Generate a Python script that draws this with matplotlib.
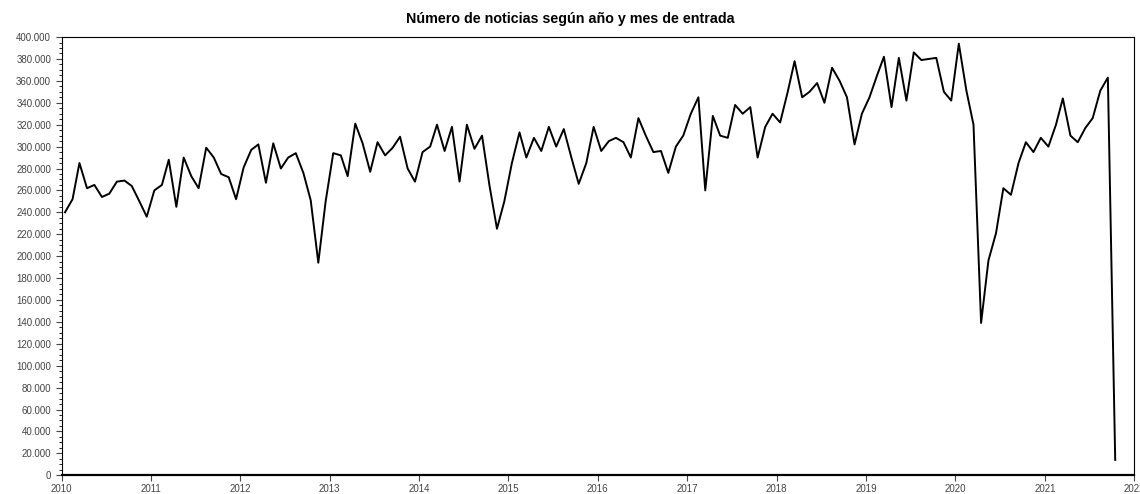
import matplotlib
matplotlib.use("Agg")
import matplotlib.pyplot as plt
import matplotlib.dates as mdates
import matplotlib.ticker as mticker
import pandas as pd

# Monthly number of news items, Jan 2010 onwards
noticias = [
    240000, 252000, 285000, 262000, 265000, 254000, 257000, 268000, 269000, 264000, 250000, 236000,  # 2010
    260000, 265000, 288000, 245000, 290000, 273000, 262000, 299000, 290000, 275000, 272000, 252000,  # 2011
    281000, 297000, 302000, 267000, 303000, 280000, 290000, 294000, 276000, 251000, 194000, 250000,  # 2012
    294000, 292000, 273000, 321000, 303000, 277000, 304000, 292000, 299000, 309000, 280000, 268000,  # 2013
    295000, 300000, 320000, 296000, 318000, 268000, 320000, 298000, 310000, 265000, 225000, 250000,  # 2014
    285000, 313000, 290000, 308000, 296000, 318000, 300000, 316000, 290000, 266000, 285000, 318000,  # 2015
    296000, 305000, 308000, 304000, 290000, 326000, 310000, 295000, 296000, 276000, 300000, 310000,  # 2016
    330000, 345000, 260000, 328000, 310000, 308000, 338000, 330000, 336000, 290000, 318000, 330000,  # 2017
    322000, 350000, 378000, 345000, 350000, 358000, 340000, 372000, 360000, 345000, 302000, 330000,  # 2018
    345000, 365000, 382000, 336000, 381000, 342000, 386000, 379000, 380000, 381000, 350000, 342000,  # 2019
    394000, 351000, 320000, 139000, 196000, 221000, 262000, 256000, 285000, 304000, 295000, 308000,  # 2020
    300000, 320000, 344000, 310000, 304000, 317000, 326000, 351000, 363000, 14000,                    # 2021
]
fechas = pd.date_range("2010-01-01", periods=len(noticias), freq="MS") + pd.Timedelta(days=14)
title = "Número de noticias según año y mes de entrada"

df = pd.DataFrame({"fecha": fechas, "noticias": noticias})

plt.rcParams["font.family"] = ["Liberation Sans", "DejaVu Sans"]
fig, ax = plt.subplots(figsize=(11.4, 4.94), dpi=100)
fig.subplots_adjust(left=0.054, right=0.995, bottom=0.038, top=0.925)

ax.plot(df["fecha"], df["noticias"], color="black", linewidth=1.4)

ax.set_xlim(pd.Timestamp("2010-01-01"), pd.Timestamp("2022-01-01"))
ax.set_ylim(0, 400000)

ax.xaxis.set_major_locator(mdates.YearLocator())
ax.xaxis.set_major_formatter(mdates.DateFormatter("%Y"))
ax.yaxis.set_major_locator(mticker.MultipleLocator(20000))
ax.yaxis.set_minor_locator(mticker.MultipleLocator(5000))
ax.yaxis.set_major_formatter(
    mticker.FuncFormatter(lambda v, p: f"{int(v):,}".replace(",", "."))
)
ax.tick_params(axis="both", labelsize=7, colors="#444444", length=4, width=0.8)
ax.tick_params(axis="y", which="minor", length=2, width=0.6)
ax.tick_params(axis="x", pad=2)

for side in ["top", "right"]:
    ax.spines[side].set_linewidth(0.8)
ax.spines["bottom"].set_linewidth(1.6)
ax.spines["left"].set_linewidth(0.8)

fig.suptitle(title, fontsize=10.3, fontweight="bold", y=0.975)

fig.savefig("out.png", dpi=100)
